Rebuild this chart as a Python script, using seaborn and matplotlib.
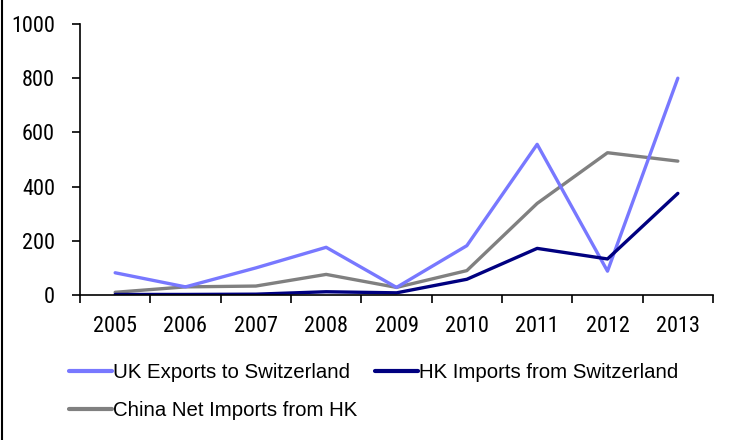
import matplotlib
matplotlib.use("Agg")
import matplotlib.pyplot as plt
import seaborn as sns
import pandas as pd
from matplotlib.lines import Line2D
from matplotlib import font_manager

years = ["2005", "2006", "2007", "2008", "2009", "2010", "2011", "2012", "2013"]
uk_exports = [82, 30, 100, 176, 28, 182, 556, 88, 800]
hk_imports = [2, 2, 3, 12, 8, 58, 172, 133, 375]
china_net = [10, 30, 33, 76, 28, 90, 338, 525, 494]
series_names = ["UK Exports to Switzerland", "HK Imports from Switzerland", "China Net Imports from HK"]
colors = ["#7878FF", "#000080", "#808080"]

sns.set_theme(style="white")
names = {f.name for f in font_manager.fontManager.ttflist}
narrow = None
for cand in ['Liberation Sans Narrow', 'Arial Narrow', 'Roboto Condensed', 'Archivo Narrow', 'Asap Condensed']:
    if cand in names:
        narrow = cand
        break
plt.rcParams['font.family'] = ['Liberation Sans', 'DejaVu Sans']
tick_family = ([narrow] if narrow else []) + ['Liberation Sans', 'DejaVu Sans']

rows = []
for name, vals in zip(series_names, [uk_exports, hk_imports, china_net]):
    for i, v in enumerate(vals):
        rows.append({"pos": i, "year": years[i], "value": v, "series": name})
df = pd.DataFrame(rows)

fig = plt.figure(figsize=(7.36, 4.40), dpi=100)
ax = fig.add_axes([80/736, 1-295/440, (713-80)/736, (295-24)/440])

sns.lineplot(data=df, x="pos", y="value", hue="series", palette=dict(zip(series_names, colors)),
             hue_order=[series_names[2], series_names[0], series_names[1]],
             linewidth=2.4, ax=ax, legend=False)

fs = 16 if narrow else 14
ax.set_xlim(-0.5, len(years) - 0.5)
ax.set_ylim(0, 1000)
ax.set_yticks(range(0, 1001, 200))
ax.set_xticks(range(len(years)))
ax.set_xticklabels(years)
ax.set_xticks([i - 0.5 for i in range(len(years) + 1)], minor=True)
ax.tick_params(axis="x", which="major", length=0, pad=15, labelsize=fs, labelcolor="black")
ax.tick_params(axis="x", which="minor", length=6, width=1.2, color="black", direction="out", bottom=True)
ax.tick_params(axis="y", which="major", length=6, width=1.2, color="black", direction="out", left=True,
               labelsize=fs, pad=12, labelcolor="black")
for lab in ax.get_xticklabels() + ax.get_yticklabels():
    lab.set_family(tick_family)
ax.set_xlabel("")
ax.set_ylabel("")
for s in ["top", "right"]:
    ax.spines[s].set_visible(False)
for s in ["left", "bottom"]:
    ax.spines[s].set_color("black")
    ax.spines[s].set_linewidth(1.2)
ax.grid(False)

order = [0, 2, 1]
handles = [Line2D([0], [0], color=colors[i], lw=3.0) for i in order]
labels = [series_names[i] for i in order]
leg = fig.legend(handles, labels, loc="upper left", bbox_to_anchor=(69/736, 1-363/440),
                 ncol=2, frameon=False, fontsize=14.7, handlelength=2.1, handletextpad=0.05,
                 columnspacing=0.87, labelspacing=0.95, borderpad=0, borderaxespad=0)
for t in leg.get_texts():
    t.set_color("black")

fig.add_artist(Line2D([2/736, 2/736], [0, 1], color="black", lw=1.5, transform=fig.transFigure))

fig.savefig("out.png", dpi=100)
